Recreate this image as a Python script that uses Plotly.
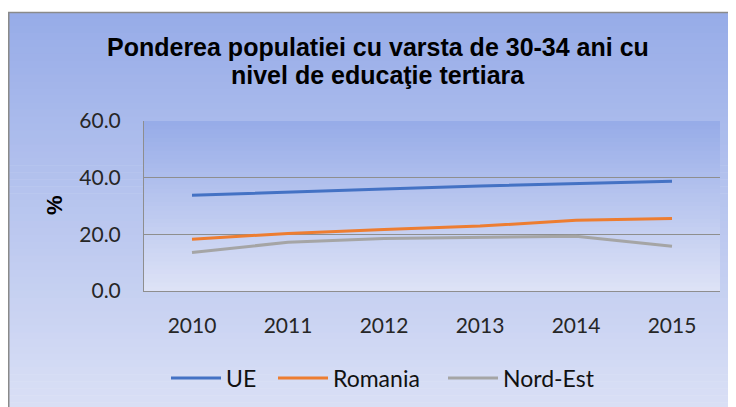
import plotly.graph_objects as go

years = ["2010", "2011", "2012", "2013", "2014", "2015"]
ue = [33.8, 34.8, 36.0, 37.1, 37.9, 38.7]
romania = [18.3, 20.3, 21.7, 22.9, 25.0, 25.6]
nord_est = [13.6, 17.2, 18.5, 18.9, 19.3, 15.8]
y_ticks = [0, 20, 40, 60]
title_lines = ["Ponderea populatiei cu varsta de 30-34 ani cu", "nivel de educaţie tertiara"]

W, H = 736, 407
OFF = 8  # page offset of the figure in the screenshot
# plot area in screen px: x 144..720, y 121..291
L, T = 144 - OFF, 121 - OFF
R, B = W - (720 - OFF), H - (291 - OFF)
pw, ph = W - L - R, H - T - B

def px_x(x):  # screen px -> paper
    return (x - OFF - L) / pw

def px_y(y):
    return (H - B - (y - OFF)) / ph

top_col = (151, 172, 232)
bot_col = (221, 226, 246)

def mix(t):
    return "rgb(%d,%d,%d)" % tuple(round(a + (b - a) * t) for a, b in zip(top_col, bot_col))

shapes = []
n = 60
y0, y1 = 12, 430
for i in range(n):
    ya = y0 + (y1 - y0) * i / n
    yb = y0 + (y1 - y0) * (i + 1) / n + 0.6
    shapes.append(dict(type="rect", xref="paper", yref="paper", layer="below",
                       x0=px_x(8), x1=px_x(780), y0=px_y(ya), y1=px_y(yb),
                       fillcolor=mix(i / (n - 1)), line=dict(width=0)))
m = 40
for i in range(m):
    shapes.append(dict(type="rect", xref="x domain", yref="y domain", layer="below",
                       x0=0, x1=1, y0=1 - i / m, y1=1 - (i + 1) / m - 0.004,
                       fillcolor=mix(i / (m - 1)), line=dict(width=0)))
shapes.append(dict(type="line", xref="paper", yref="paper", layer="below",
                   x0=px_x(8), x1=px_x(780), y0=px_y(12.5), y1=px_y(12.5),
                   line=dict(color="#8a8a8a", width=1.5)))
shapes.append(dict(type="line", xref="paper", yref="paper", layer="below",
                   x0=px_x(8.75), x1=px_x(8.75), y0=px_y(12), y1=px_y(430),
                   line=dict(color="#8a8a8a", width=1.5)))

fig = go.Figure()
series = [("UE", ue, "#4472C4", "legend", 171),
          ("Romania", romania, "#ED7D31", "legend2", 278),
          ("Nord-Est", nord_est, "#A5A5A5", "legend3", 448)]
legends = {}
for name, vals, col, lg, lx in series:
    fig.add_trace(go.Scatter(x=years, y=vals, name=name, mode="lines", legend=lg,
                             line=dict(color=col, width=3)))
    legends[lg] = dict(orientation="h", x=px_x(lx - 5), xanchor="left",
                       y=px_y(378), yanchor="middle",
                       font=dict(family="Lato", size=23, color="#111111"),
                       bgcolor="rgba(0,0,0,0)", itemwidth=50, borderwidth=0)

annotations = [dict(text="<b>%s</b>" % t, xref="paper", yref="paper", x=px_x(378), y=px_y(yy),
                    showarrow=False, xanchor="center", yanchor="middle",
                    font=dict(family="Liberation Sans", size=25, color="#000000"))
               for t, yy in zip(title_lines, [47, 75])]
annotations.append(dict(text="<b>%</b>", xref="paper", yref="paper", x=px_x(54), y=px_y(205),
                        showarrow=False, textangle=-90, xanchor="center", yanchor="middle",
                        font=dict(family="Liberation Sans", size=22, color="#000000")))

fig.update_layout(
    width=W, height=H,
    margin=dict(l=L, r=R, t=T, b=B, autoexpand=False),
    paper_bgcolor="white",
    plot_bgcolor="rgba(0,0,0,0)",
    shapes=shapes,
    font=dict(family="Lato", size=21, color="#262626"),
    showlegend=True,
    annotations=annotations,
    **legends,
)
fig.update_xaxes(type="category", range=[-0.5, 5.5], showgrid=False, showline=True,
                 linecolor="#8e8e8e", linewidth=1, ticks="outside", ticklen=16,
                 tickcolor="rgba(0,0,0,0)", fixedrange=True)
fig.update_yaxes(range=[0, 60], tickvals=y_ticks, tickformat=".1f", showgrid=True,
                 gridcolor="#8e8e8e", gridwidth=1, showline=True, linecolor="#8e8e8e",
                 linewidth=1, zeroline=False, ticks="outside", ticklen=18,
                 tickcolor="rgba(0,0,0,0)", fixedrange=True)

fig.write_html("out.html")
